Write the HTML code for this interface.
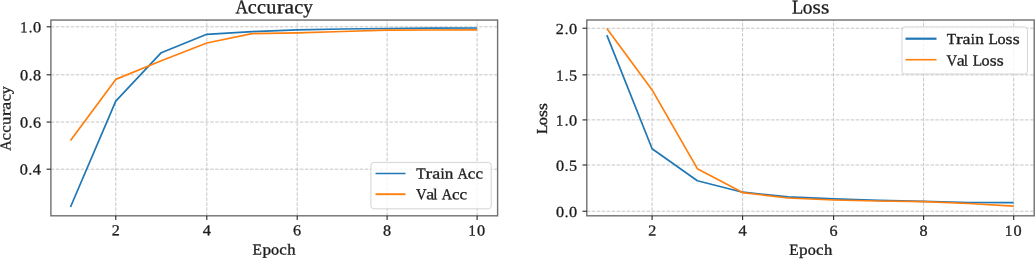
<!DOCTYPE html>
<html><head><meta charset="utf-8"><style>
html,body{margin:0;padding:0;background:#fff;}
body{width:1035px;height:259px;overflow:hidden;}
svg{display:block;filter:blur(0.3px);}
text{font-family:"Liberation Serif", serif;fill:#1c1c1c;stroke:#1c1c1c;stroke-width:0.3px;}
.grid{stroke:#c6c6c6;stroke-width:1;stroke-dasharray:3.48 1.5;}
</style></head><body>
<svg width="1035" height="259" viewBox="0 0 1035 259">
<rect width="1035" height="259" fill="#fff"/>
<line x1="115.76" y1="215.8" x2="115.76" y2="20.05" class="grid"/>
<line x1="206.80" y1="215.8" x2="206.80" y2="20.05" class="grid"/>
<line x1="297.20" y1="215.8" x2="297.20" y2="20.05" class="grid"/>
<line x1="387.10" y1="215.8" x2="387.10" y2="20.05" class="grid"/>
<line x1="477.10" y1="215.8" x2="477.10" y2="20.05" class="grid"/>
<line x1="50.9" y1="169.20" x2="497.6" y2="169.20" class="grid"/>
<line x1="50.9" y1="122.05" x2="497.6" y2="122.05" class="grid"/>
<line x1="50.9" y1="74.80" x2="497.6" y2="74.80" class="grid"/>
<line x1="50.9" y1="26.80" x2="497.6" y2="26.80" class="grid"/>
<polyline points="70.50,207.00 115.76,101.20 161.28,52.70 206.80,34.30 252.00,31.60 297.20,29.80 342.15,29.00 387.10,28.50 432.10,28.20 477.10,28.00" fill="none" stroke="#1f77b4" stroke-width="1.7" stroke-linejoin="round" stroke-linecap="butt"/>
<polyline points="70.50,140.60 115.76,79.40 161.28,60.70 206.80,43.00 252.00,33.60 297.20,32.90 342.15,31.50 387.10,30.20 432.10,30.00 477.10,29.90" fill="none" stroke="#ff7f0e" stroke-width="1.7" stroke-linejoin="round" stroke-linecap="butt"/>
<rect x="370.9" y="162.4" width="120.30" height="46.40" rx="3" ry="3" fill="#fff" fill-opacity="0.8" stroke="#d4d4d4" stroke-width="1"/>
<line x1="375.5" y1="173.5" x2="405.5" y2="173.5" stroke="#1f77b4" stroke-width="1.5"/>
<g transform="translate(0.00,178.30) skewY(0.03)"><text transform="translate(416.27,0) scale(1.004,1)" font-size="15.3">T</text><text transform="translate(425.62,0) scale(1.299,1)" font-size="15.3">r</text><text transform="translate(432.14,0) scale(1.173,1)" font-size="15.3">a</text><text transform="translate(440.43,0) scale(0.979,1)" font-size="15.3">i</text><text transform="translate(444.73,0) scale(1.123,1)" font-size="15.3">n</text><text transform="translate(457.60,0) scale(0.937,1)" font-size="15.3">A</text><text transform="translate(467.76,0) scale(1.110,1)" font-size="15.3">c</text><text transform="translate(475.43,0) scale(1.110,1)" font-size="15.3">c</text></g>
<line x1="375.5" y1="194.2" x2="405.5" y2="194.2" stroke="#ff7f0e" stroke-width="1.9"/>
<g transform="translate(0.00,199.10) skewY(0.03)"><text transform="translate(416.08,0) scale(0.960,1)" font-size="15.3">V</text><text transform="translate(426.35,0) scale(1.173,1)" font-size="15.3">a</text><text transform="translate(433.31,0) scale(0.980,1)" font-size="15.3">l</text><text transform="translate(441.73,0) scale(0.937,1)" font-size="15.3">A</text><text transform="translate(451.88,0) scale(1.110,1)" font-size="15.3">c</text><text transform="translate(459.56,0) scale(1.110,1)" font-size="15.3">c</text></g>
<rect x="50.9" y="20.05" width="446.70" height="195.75" fill="none" stroke="#707070" stroke-width="1.4"/>
<line x1="115.76" y1="215.8" x2="115.76" y2="220.10" stroke="#262626" stroke-width="1.1"/>
<g transform="translate(0.00,235.20) skewY(0.03)"><text transform="translate(111.82,0) scale(1.052,1)" font-size="15.3">2</text></g>
<line x1="206.80" y1="215.8" x2="206.80" y2="220.10" stroke="#262626" stroke-width="1.1"/>
<g transform="translate(0.00,235.20) skewY(0.03)"><text transform="translate(202.67,0) scale(1.069,1)" font-size="15.3">4</text></g>
<line x1="297.20" y1="215.8" x2="297.20" y2="220.10" stroke="#262626" stroke-width="1.1"/>
<g transform="translate(0.00,235.20) skewY(0.03)"><text transform="translate(293.05,0) scale(1.058,1)" font-size="15.3">6</text></g>
<line x1="387.10" y1="215.8" x2="387.10" y2="220.10" stroke="#262626" stroke-width="1.1"/>
<g transform="translate(0.00,235.20) skewY(0.03)"><text transform="translate(383.05,0) scale(1.059,1)" font-size="15.3">8</text></g>
<line x1="477.10" y1="215.8" x2="477.10" y2="220.10" stroke="#262626" stroke-width="1.1"/>
<g transform="translate(0.00,235.20) skewY(0.03)"><text transform="translate(468.41,0) scale(0.946,1)" font-size="15.3">1</text><text transform="translate(476.99,0) scale(1.064,1)" font-size="15.3">0</text></g>
<line x1="46.60" y1="169.20" x2="50.9" y2="169.20" stroke="#262626" stroke-width="1.1"/>
<g transform="translate(0.00,174.60) skewY(0.03)"><text transform="translate(19.79,0) scale(1.064,1)" font-size="15.3">0</text><text transform="translate(28.57,0) scale(0.970,1)" font-size="15.3">.</text><text transform="translate(32.67,0) scale(1.069,1)" font-size="15.3">4</text></g>
<line x1="46.60" y1="122.05" x2="50.9" y2="122.05" stroke="#262626" stroke-width="1.1"/>
<g transform="translate(0.00,127.45) skewY(0.03)"><text transform="translate(19.97,0) scale(1.064,1)" font-size="15.3">0</text><text transform="translate(28.74,0) scale(0.970,1)" font-size="15.3">.</text><text transform="translate(32.99,0) scale(1.058,1)" font-size="15.3">6</text></g>
<line x1="46.60" y1="74.80" x2="50.9" y2="74.80" stroke="#262626" stroke-width="1.1"/>
<g transform="translate(0.00,80.20) skewY(0.03)"><text transform="translate(20.00,0) scale(1.064,1)" font-size="15.3">0</text><text transform="translate(28.77,0) scale(0.970,1)" font-size="15.3">.</text><text transform="translate(33.11,0) scale(1.059,1)" font-size="15.3">8</text></g>
<line x1="46.60" y1="26.80" x2="50.9" y2="26.80" stroke="#262626" stroke-width="1.1"/>
<g transform="translate(0.00,32.20) skewY(0.03)"><text transform="translate(20.13,0) scale(0.946,1)" font-size="15.3">1</text><text transform="translate(28.77,0) scale(0.970,1)" font-size="15.3">.</text><text transform="translate(33.07,0) scale(1.064,1)" font-size="15.3">0</text></g>
<g transform="translate(0.00,13.10) skewY(0.03)"><text transform="translate(235.59,0) scale(0.880,1)" font-size="19.5">A</text><text transform="translate(247.74,0) scale(1.043,1)" font-size="19.5">c</text><text transform="translate(256.93,0) scale(1.043,1)" font-size="19.5">c</text><text transform="translate(266.25,0) scale(1.038,1)" font-size="19.5">u</text><text transform="translate(276.71,0) scale(1.220,1)" font-size="19.5">r</text><text transform="translate(284.52,0) scale(1.102,1)" font-size="19.5">a</text><text transform="translate(294.29,0) scale(1.043,1)" font-size="19.5">c</text><text transform="translate(303.14,0) scale(0.985,1)" font-size="19.5">y</text></g>
<g transform="translate(0.00,254.40) skewY(0.03)"><text transform="translate(252.56,0) scale(1.005,1)" font-size="15.3">E</text><text transform="translate(262.42,0) scale(1.127,1)" font-size="15.3">p</text><text transform="translate(271.11,0) scale(1.059,1)" font-size="15.3">o</text><text transform="translate(279.33,0) scale(1.110,1)" font-size="15.3">c</text><text transform="translate(287.27,0) scale(1.088,1)" font-size="15.3">h</text></g>
<g transform="translate(10.60,118.40) rotate(-90) skewY(0.03)"><text transform="translate(-32.26,0) scale(0.937,1)" font-size="15.3">A</text><text transform="translate(-22.10,0) scale(1.110,1)" font-size="15.3">c</text><text transform="translate(-14.43,0) scale(1.110,1)" font-size="15.3">c</text><text transform="translate(-6.64,0) scale(1.105,1)" font-size="15.3">u</text><text transform="translate(2.10,0) scale(1.299,1)" font-size="15.3">r</text><text transform="translate(8.62,0) scale(1.173,1)" font-size="15.3">a</text><text transform="translate(16.78,0) scale(1.110,1)" font-size="15.3">c</text><text transform="translate(24.17,0) scale(1.049,1)" font-size="15.3">y</text></g>
<line x1="652.10" y1="215.8" x2="652.10" y2="20.0" class="grid"/>
<line x1="742.60" y1="215.8" x2="742.60" y2="20.0" class="grid"/>
<line x1="833.60" y1="215.8" x2="833.60" y2="20.0" class="grid"/>
<line x1="923.60" y1="215.8" x2="923.60" y2="20.0" class="grid"/>
<line x1="1013.70" y1="215.8" x2="1013.70" y2="20.0" class="grid"/>
<line x1="586.8" y1="211.24" x2="1034.2" y2="211.24" class="grid"/>
<line x1="586.8" y1="165.00" x2="1034.2" y2="165.00" class="grid"/>
<line x1="586.8" y1="119.90" x2="1034.2" y2="119.90" class="grid"/>
<line x1="586.8" y1="74.87" x2="1034.2" y2="74.87" class="grid"/>
<line x1="586.8" y1="28.24" x2="1034.2" y2="28.24" class="grid"/>
<polyline points="606.85,35.10 652.10,148.70 697.35,180.70 742.60,192.20 788.10,196.90 833.60,198.90 878.60,200.30 923.60,201.30 968.65,202.50 1013.70,202.60" fill="none" stroke="#1f77b4" stroke-width="1.7" stroke-linejoin="round" stroke-linecap="butt"/>
<polyline points="606.85,28.40 652.10,89.90 697.35,168.70 742.60,192.60 788.10,198.00 833.60,200.00 878.60,201.00 923.60,201.70 968.65,203.50 1013.70,206.10" fill="none" stroke="#ff7f0e" stroke-width="1.7" stroke-linejoin="round" stroke-linecap="butt"/>
<rect x="902.0" y="26.9" width="125.40" height="47.10" rx="3" ry="3" fill="#fff" fill-opacity="0.8" stroke="#d4d4d4" stroke-width="1"/>
<line x1="905.5" y1="38.7" x2="936.5" y2="38.7" stroke="#1f77b4" stroke-width="2.2"/>
<g transform="translate(0.00,43.40) skewY(0.03)"><text transform="translate(946.67,0) scale(1.004,1)" font-size="15.3">T</text><text transform="translate(956.02,0) scale(1.299,1)" font-size="15.3">r</text><text transform="translate(962.54,0) scale(1.173,1)" font-size="15.3">a</text><text transform="translate(970.83,0) scale(0.979,1)" font-size="15.3">i</text><text transform="translate(975.13,0) scale(1.123,1)" font-size="15.3">n</text><text transform="translate(988.51,0) scale(1.007,1)" font-size="15.3">L</text><text transform="translate(997.39,0) scale(1.059,1)" font-size="15.3">o</text><text transform="translate(1005.60,0) scale(1.168,1)" font-size="15.3">s</text><text transform="translate(1012.63,0) scale(1.168,1)" font-size="15.3">s</text></g>
<line x1="905.5" y1="59.7" x2="936.5" y2="59.7" stroke="#ff7f0e" stroke-width="1.6"/>
<g transform="translate(0.00,65.00) skewY(0.03)"><text transform="translate(946.48,0) scale(0.960,1)" font-size="15.3">V</text><text transform="translate(956.75,0) scale(1.173,1)" font-size="15.3">a</text><text transform="translate(963.71,0) scale(0.980,1)" font-size="15.3">l</text><text transform="translate(972.63,0) scale(1.007,1)" font-size="15.3">L</text><text transform="translate(981.52,0) scale(1.059,1)" font-size="15.3">o</text><text transform="translate(989.73,0) scale(1.168,1)" font-size="15.3">s</text><text transform="translate(996.76,0) scale(1.168,1)" font-size="15.3">s</text></g>
<rect x="586.8" y="20.0" width="447.40" height="195.80" fill="none" stroke="#707070" stroke-width="1.4"/>
<line x1="652.10" y1="215.8" x2="652.10" y2="220.10" stroke="#262626" stroke-width="1.1"/>
<g transform="translate(0.00,235.20) skewY(0.03)"><text transform="translate(648.16,0) scale(1.052,1)" font-size="15.3">2</text></g>
<line x1="742.60" y1="215.8" x2="742.60" y2="220.10" stroke="#262626" stroke-width="1.1"/>
<g transform="translate(0.00,235.20) skewY(0.03)"><text transform="translate(738.47,0) scale(1.069,1)" font-size="15.3">4</text></g>
<line x1="833.60" y1="215.8" x2="833.60" y2="220.10" stroke="#262626" stroke-width="1.1"/>
<g transform="translate(0.00,235.20) skewY(0.03)"><text transform="translate(829.45,0) scale(1.058,1)" font-size="15.3">6</text></g>
<line x1="923.60" y1="215.8" x2="923.60" y2="220.10" stroke="#262626" stroke-width="1.1"/>
<g transform="translate(0.00,235.20) skewY(0.03)"><text transform="translate(919.55,0) scale(1.059,1)" font-size="15.3">8</text></g>
<line x1="1013.70" y1="215.8" x2="1013.70" y2="220.10" stroke="#262626" stroke-width="1.1"/>
<g transform="translate(0.00,235.20) skewY(0.03)"><text transform="translate(1005.01,0) scale(0.946,1)" font-size="15.3">1</text><text transform="translate(1013.59,0) scale(1.064,1)" font-size="15.3">0</text></g>
<line x1="582.50" y1="211.24" x2="586.8" y2="211.24" stroke="#262626" stroke-width="1.1"/>
<g transform="translate(0.00,216.64) skewY(0.03)"><text transform="translate(555.90,0) scale(1.064,1)" font-size="15.3">0</text><text transform="translate(564.67,0) scale(0.970,1)" font-size="15.3">.</text><text transform="translate(568.97,0) scale(1.064,1)" font-size="15.3">0</text></g>
<line x1="582.50" y1="165.00" x2="586.8" y2="165.00" stroke="#262626" stroke-width="1.1"/>
<g transform="translate(0.00,170.40) skewY(0.03)"><text transform="translate(556.04,0) scale(1.064,1)" font-size="15.3">0</text><text transform="translate(564.81,0) scale(0.970,1)" font-size="15.3">.</text><text transform="translate(569.06,0) scale(1.057,1)" font-size="15.3">5</text></g>
<line x1="582.50" y1="119.90" x2="586.8" y2="119.90" stroke="#262626" stroke-width="1.1"/>
<g transform="translate(0.00,125.30) skewY(0.03)"><text transform="translate(556.03,0) scale(0.946,1)" font-size="15.3">1</text><text transform="translate(564.67,0) scale(0.970,1)" font-size="15.3">.</text><text transform="translate(568.97,0) scale(1.064,1)" font-size="15.3">0</text></g>
<line x1="582.50" y1="74.87" x2="586.8" y2="74.87" stroke="#262626" stroke-width="1.1"/>
<g transform="translate(0.00,80.27) skewY(0.03)"><text transform="translate(556.17,0) scale(0.946,1)" font-size="15.3">1</text><text transform="translate(564.81,0) scale(0.970,1)" font-size="15.3">.</text><text transform="translate(569.06,0) scale(1.057,1)" font-size="15.3">5</text></g>
<line x1="582.50" y1="28.24" x2="586.8" y2="28.24" stroke="#262626" stroke-width="1.1"/>
<g transform="translate(0.00,33.64) skewY(0.03)"><text transform="translate(555.82,0) scale(1.052,1)" font-size="15.3">2</text><text transform="translate(564.67,0) scale(0.970,1)" font-size="15.3">.</text><text transform="translate(568.97,0) scale(1.064,1)" font-size="15.3">0</text></g>
<g transform="translate(0.00,13.10) skewY(0.03)"><text transform="translate(792.01,0) scale(0.946,1)" font-size="19.5">L</text><text transform="translate(802.65,0) scale(0.994,1)" font-size="19.5">o</text><text transform="translate(812.48,0) scale(1.097,1)" font-size="19.5">s</text><text transform="translate(820.89,0) scale(1.097,1)" font-size="19.5">s</text></g>
<g transform="translate(0.00,254.40) skewY(0.03)"><text transform="translate(789.26,0) scale(1.005,1)" font-size="15.3">E</text><text transform="translate(799.12,0) scale(1.127,1)" font-size="15.3">p</text><text transform="translate(807.81,0) scale(1.059,1)" font-size="15.3">o</text><text transform="translate(816.03,0) scale(1.110,1)" font-size="15.3">c</text><text transform="translate(823.97,0) scale(1.088,1)" font-size="15.3">h</text></g>
<g transform="translate(546.90,118.60) rotate(-90) skewY(0.03)"><text transform="translate(-15.44,0) scale(1.007,1)" font-size="15.3">L</text><text transform="translate(-6.56,0) scale(1.059,1)" font-size="15.3">o</text><text transform="translate(1.65,0) scale(1.168,1)" font-size="15.3">s</text><text transform="translate(8.68,0) scale(1.168,1)" font-size="15.3">s</text></g>
</svg>
</body></html>
